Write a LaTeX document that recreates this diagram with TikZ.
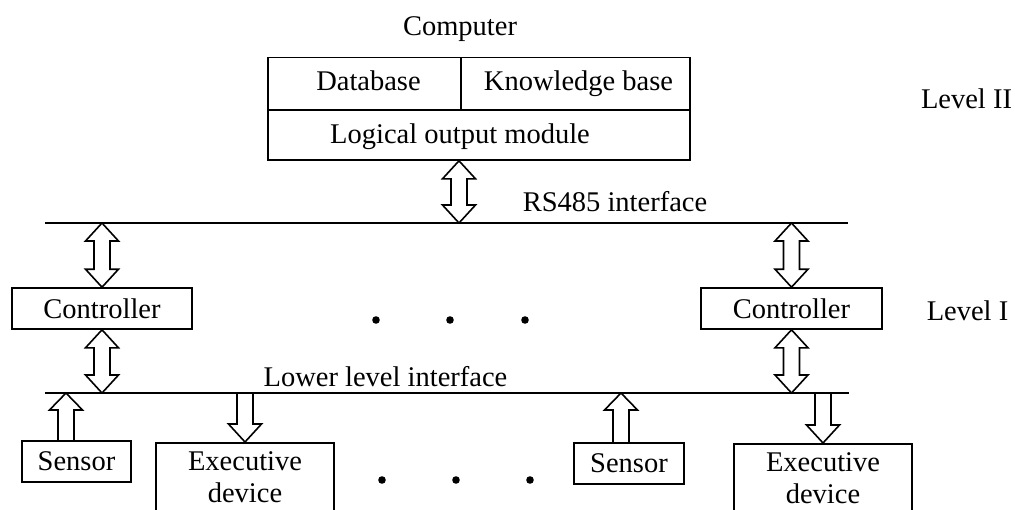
\documentclass[tikz,border=0pt]{standalone}
\usepackage{fontspec}
\setmainfont{Liberation Serif}
\usetikzlibrary{calc}

\tikzset{
  box/.style={draw, line width=1.6pt, inner sep=0pt},
  txt/.style={anchor=base, inner sep=0pt},
  bus/.style={line width=1.7pt},
  dot/.style={fill=black},
  % hollow block arrow with heads at both ends (start above target)
  dblarrow/.style={line width=1.6pt, line join=miter, to path={
    let \p1=(\tikztostart), \p2=(\tikztotarget) in
    (\x1,\y1) -- (\x1+16.5pt,\y1-18pt) -- (\x1+8pt,\y1-18pt)
    -- (\x1+8pt,\y2+18pt) -- (\x1+16.5pt,\y2+18pt) -- (\x1,\y2)
    -- (\x1-16.5pt,\y2+18pt) -- (\x1-8pt,\y2+18pt)
    -- (\x1-8pt,\y1-18pt) -- (\x1-16.5pt,\y1-18pt) -- cycle}},
  % hollow block arrow pointing up: tail at start, tip at target height
  uparrow/.style={line width=1.6pt, line join=miter, to path={
    let \p1=(\tikztostart), \p2=(\tikztotarget) in
    (\x1-8pt,\y1) -- (\x1-8pt,\y2-17pt) -- (\x1-16.5pt,\y2-17pt)
    -- (\x1,\y2) -- (\x1+16.5pt,\y2-17pt) -- (\x1+8pt,\y2-17pt)
    -- (\x1+8pt,\y1)}},
  % hollow block arrow pointing down: tail at start, tip at target
  downarrow/.style={line width=1.6pt, line join=miter, to path={
    let \p1=(\tikztostart), \p2=(\tikztotarget) in
    (\x1-8pt,\y1) -- (\x1-8pt,\y2+18pt) -- (\x1-16.5pt,\y2+18pt)
    -- (\x1,\y2) -- (\x1+16.5pt,\y2+18pt) -- (\x1+8pt,\y2+18pt)
    -- (\x1+8pt,\y1)}}
}

\begin{document}
\begin{tikzpicture}[x=1pt, y=-1pt, font=\fontsize{28.5}{32}\selectfont]
\useasboundingbox (0,0) rectangle (1015,509);
\clip (0,0) rectangle (1015,509);

% ---- Level II: the computer ----
\node[txt] (comptitle) at (460,35) {Computer};
\node[box, minimum width=422, minimum height=102.5] (comp) at (479,108.75) {};
\coordinate (compmid) at (268,110);
\draw[line width=1.6pt] (compmid) -- (compmid -| comp.east);
\draw[line width=1.6pt] (461,57.5) -- (461,110);
\node[txt] (db) at (368.5,90) {Database};
\node[txt] (kb) at (578.5,90) {Knowledge base};
\node[txt] (lom) at (460,143) {Logical output module};
\node[txt] (lvl2) at (966.5,108) {Level II};

% ---- RS485 bus ----
\coordinate (rsW) at (45,223);
\coordinate (rsE) at (848,223);
\coordinate (rs0) at (459,223);
\draw[bus] (rsW) -- (rsE);
\node[txt] (rslabel) at (615,211) {RS485 interface};
\draw[dblarrow] (comp.south -| rs0) to (rs0);

% ---- Level I: controllers ----
\node[box, minimum width=180, minimum height=41] (ctlL) at (102,308.5) {Controller};
\node[box, minimum width=181, minimum height=41] (ctlR) at (791.5,308.5) {Controller};
\node[txt] (lvl1) at (967.5,320) {Level I};
\fill[dot] (376,320) circle[radius=3.8pt];
\fill[dot] (450,320) circle[radius=3.8pt];
\fill[dot] (525,320) circle[radius=3.8pt];

% ---- lower level bus ----
\coordinate (lowW) at (45,393);
\coordinate (lowE) at (849,393);
\draw[bus] (lowW) -- (lowE);
\node[txt] (lowlabel) at (385.5,386) {Lower level interface};

\draw[dblarrow] (rsW -| ctlL.north) to (ctlL.north);
\draw[dblarrow] (ctlL.south) to (ctlL.south |- lowW);
\draw[dblarrow] (rsW -| ctlR.north) to (ctlR.north);
\draw[dblarrow] (ctlR.south) to (ctlR.south |- lowW);

% ---- field devices ----
\node[box, minimum width=109, minimum height=41] (sen1) at (76.5,461.5) {Sensor};
\node[box, minimum width=110, minimum height=41] (sen2) at (629,463.5) {Sensor};
\node[box, anchor=north, minimum width=178, align=center, inner ysep=0pt,
      text height=60pt, text depth=60pt] (exec1) at (245,442) {Executive\\device};
\node[box, anchor=north, minimum width=178, align=center, inner ysep=0pt,
      text height=60pt, text depth=60pt] (exec2) at (823,443) {Executive\\device};

\draw[uparrow] ($(sen1.north)+(-10.5,0)$) to (lowW);
\draw[uparrow] ($(sen2.north)+(-8,0)$) to (lowW);
\draw[downarrow] (exec1.north |- lowW) to (exec1.north);
\draw[downarrow] (exec2.north |- lowW) to (exec2.north);

\fill[dot] (382,480) circle[radius=3.8pt];
\fill[dot] (456,480) circle[radius=3.8pt];
\fill[dot] (530,480) circle[radius=3.8pt];
\end{tikzpicture}
\end{document}
